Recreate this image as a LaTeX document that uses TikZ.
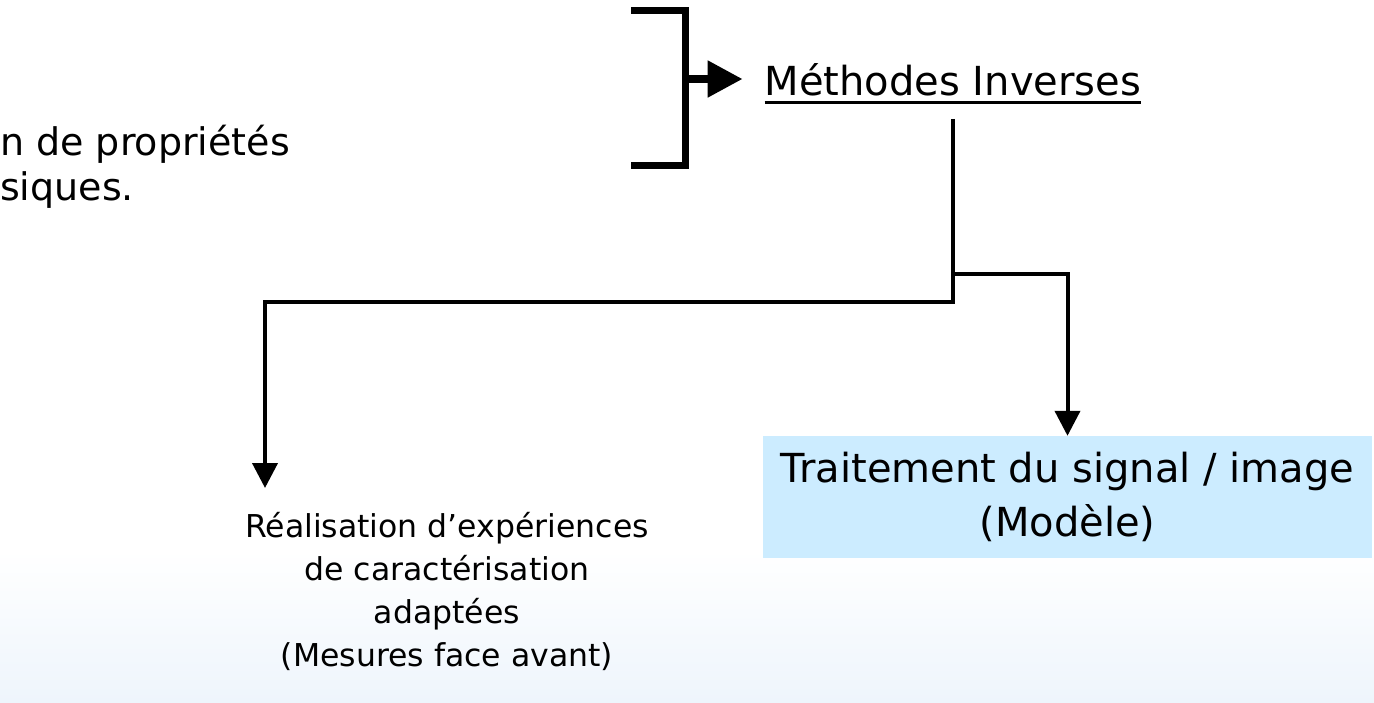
\documentclass[tikz,border=0pt]{standalone}
\usepackage{fontspec}
\setmainfont{DejaVu Sans}
\usetikzlibrary{arrows.meta}
\definecolor{boxblue}{RGB}{204,236,255}
\definecolor{bgblue}{RGB}{238,245,252}
\begin{document}
\begin{tikzpicture}[x=1pt,y=-1pt,
  txt/.style={font=\fontsize{40}{43}\selectfont, inner sep=0pt},
  small/.style={font=\fontsize{31.5}{43}\selectfont, inner sep=0pt},
  conn/.style={line width=4pt},
  tip/.style={-{Triangle[length=25pt,width=25pt]}},
  bigtip/.style={-{Triangle[length=35pt,width=35pt]}},
  brack/.style={line width=7pt},
  ]
\useasboundingbox (0,0) rectangle (1374,702);
\shade[top color=white, bottom color=bgblue] (0,550) rectangle (1374,702);

% text on the left edge
\node[small, font=\fontsize{38}{43}\selectfont, anchor=base west] (l1) at (0,155) {n de propriétés};
\node[small, font=\fontsize{38}{43}\selectfont, anchor=base west] (l2) at (0,200) {siques.};

% bracket
\draw[brack] (631,10.5) -- (685.5,10.5) -- (685.5,165.5) -- (631,165.5);
\coordinate (brk) at (685.5,79);

% Methodes Inverses
\node[txt, anchor=base] (mi) at (953,95) {Méthodes Inverses};
\draw[line width=3.5pt] ([yshift=-6.5pt]mi.south west) -- ([yshift=-6.5pt]mi.south east);
\draw[line width=8pt, bigtip, shorten >=22pt] (brk) -- (brk -| mi.west);

% boxes
\node[fill=boxblue, minimum width=609pt, minimum height=122pt, inner sep=0pt,
      align=center, font=\fontsize{40}{54}\selectfont] (trait) at (1067.5,497)
      {Traitement du signal / image\\(Modèle)};
\node[small, align=center] (exp) at (447,591)
      {Réalisation d’expériences\\de caractérisation\\adaptées\\(Mesures face avant)};

% connectors
\coordinate (j1) at (953,301.5);
\coordinate (j2) at (953,274);
\coordinate (eL) at (265,488);
\draw[conn, tip] ([yshift=-23pt]mi.south) -- (j1) -| (eL);
\draw[conn, tip] (j2) -| (trait.north);
\end{tikzpicture}
\end{document}
